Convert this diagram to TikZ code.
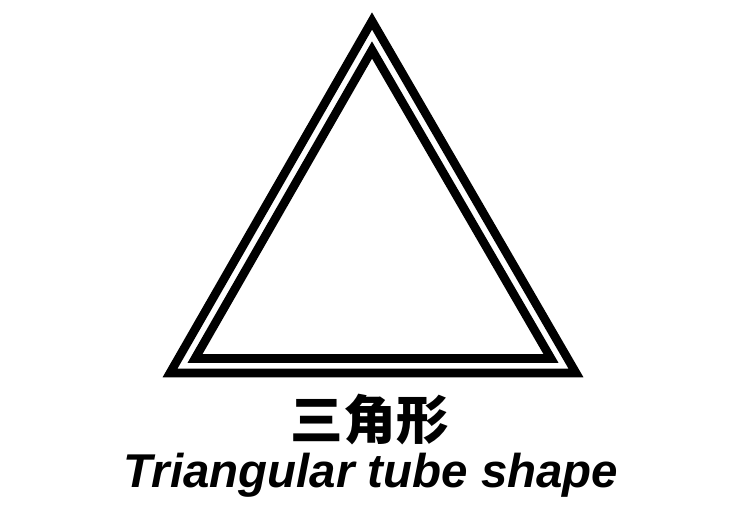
\documentclass[tikz,border=0pt]{standalone}
\usepackage{fontspec}
\setsansfont{Liberation Sans}
\newfontfamily\cjk{Noto Sans CJK SC}
\tikzset{
  tube/.style={line width=4.9pt, line join=miter, miter limit=10},
  title/.style={inner sep=0pt, font=\cjk\bfseries\fontsize{30pt}{30pt}\selectfont},
  caption/.style={inner sep=0pt, font=\sffamily\bfseries\itshape\fontsize{27pt}{27pt}\selectfont}
}

\begin{document}
\begin{tikzpicture}[x=0.02cm, y=-0.02cm]
		\useasboundingbox (0, 0) rectangle (742, 509);
		
		% outer wall
		\draw[tube] (372, 21) -- (170, 373) -- (576, 373) -- cycle;
		% inner wall
		\draw[tube] (372, 50) -- (195, 358.5) -- (551, 358.5) -- cycle;
		
		\node[title] (cn) at (370, 420) {三角形};
		\node[caption, anchor=base] (en) at (371, 487) {Triangular tube shape};
	\end{tikzpicture}
\end{document}
